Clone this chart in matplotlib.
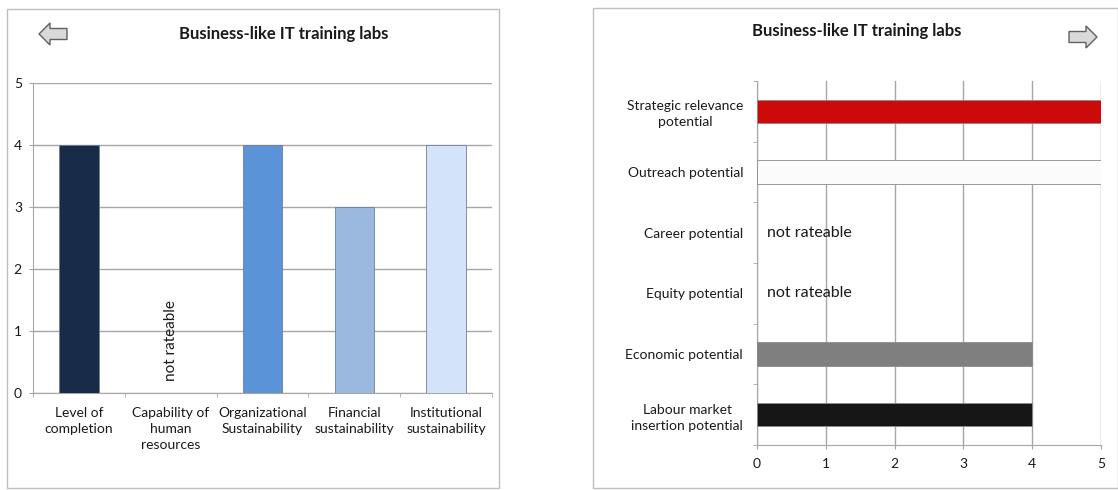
import numpy as np
import matplotlib.pyplot as plt
from matplotlib.patches import Rectangle, Polygon

plt.rcParams['font.family'] = ['Lato', 'DejaVu Sans']

title = "Business-like IT training labs"

# left chart: sustainability indicators
left_labels = ["Level of\ncompletion", "Capability of\nhuman\nresources",
               "Organizational\nSustainability", "Financial\nsustainability",
               "Institutional\nsustainability"]
left_values = [4, None, 4, 3, 4]
left_colors = ["#182b49", "#182b49", "#5b93d8", "#9bb9df", "#d3e3f9"]

# right chart: potentials
right_labels = ["Strategic relevance\npotential", "Outreach potential",
                "Career potential", "Equity potential",
                "Economic potential", "Labour market\ninsertion potential"]
right_values = [5, 5, None, None, 4, 4]
right_colors = ["#cc0a0a", "#fbfbfb", "#cc0a0a", "#cc0a0a", "#7f7f7f", "#161616"]

grid_c = "#a6a6a6"
text_c = "#1a1a1a"

fig = plt.figure(figsize=(11.18, 4.9), dpi=100)

# panel frames
fig.patches.append(Rectangle((7/1118, 0.004), 492/1118, 1 - 9/490 - 0.004,
                             transform=fig.transFigure, fill=False,
                             ec="#bfbfbf", lw=1.0))
fig.patches.append(Rectangle((593/1118, 0.004), 1 - 593/1118, 1 - 8/490 - 0.004,
                             transform=fig.transFigure, fill=False,
                             ec="#bfbfbf", lw=1.0))

# ---- left: vertical bars
ax1 = fig.add_axes([33/1118, 1 - 393/490, 459/1118, 310/490])
x = np.arange(len(left_labels))
for i, v in enumerate(left_values):
    if v is None:
        ax1.text(i, 0.2, "not rateable", rotation=90, ha="center", va="bottom",
                 fontsize=11, color=text_c)
        continue
    ax1.bar(i, v, width=0.43, color=left_colors[i], ec="#6f7f95", lw=0.6,
            zorder=3)
ax1.set_xlim(-0.5, len(left_labels) - 0.5)
ax1.set_ylim(0, 5)
ax1.set_yticks(range(6))
ax1.yaxis.grid(True, color=grid_c, lw=1.0, zorder=0)
ax1.set_xticks(x)
ax1.set_xticklabels(left_labels, fontsize=10, color=text_c, linespacing=1.4)
ax1.set_xticks(np.arange(-0.5, len(left_labels)), minor=True)
ax1.tick_params(axis="x", which="major", length=0, pad=10)
ax1.tick_params(axis="x", which="minor", length=3, color=grid_c, direction="out")
ax1.tick_params(axis="y", length=3, color=grid_c, labelsize=10, pad=5,
                labelcolor=text_c)
for s in ["top", "right"]:
    ax1.spines[s].set_visible(False)
for s in ["left", "bottom"]:
    ax1.spines[s].set_color(grid_c)
fig.text(284/1118, 1 - 34/490, title, ha="center", va="center",
         fontsize=12, fontweight="bold", color=text_c)

# ---- right: horizontal bars
ax2 = fig.add_axes([757/1118, 1 - 445/490, 344/1118, 364/490])
y = np.arange(len(right_labels))[::-1]
for yi, v, c in zip(y, right_values, right_colors):
    if v is None:
        ax2.text(0.15, yi, "not rateable", ha="left", va="center",
                 fontsize=11.5, color=text_c)
        continue
    ax2.barh(yi, v, height=0.38, color=c, ec="#8a8a8a", lw=0.6, zorder=3)
ax2.set_xlim(0, 5)
ax2.set_ylim(-0.5, len(right_labels) - 0.5)
ax2.set_xticks(range(6))
ax2.xaxis.grid(True, color=grid_c, lw=1.0, zorder=0)
ax2.set_yticks(y)
ax2.set_yticklabels(right_labels, fontsize=10, color=text_c,
                    multialignment="center", linespacing=1.4)
ax2.set_yticks(np.arange(-0.5, len(right_labels)), minor=True)
ax2.tick_params(axis="y", which="major", length=0, pad=10)
ax2.tick_params(axis="y", which="minor", length=3, color=grid_c, direction="out")
ax2.tick_params(axis="x", length=3, color=grid_c, labelsize=10, pad=6,
                labelcolor=text_c)
for s in ["top", "right"]:
    ax2.spines[s].set_visible(False)
for s in ["left", "bottom"]:
    ax2.spines[s].set_color(grid_c)
fig.text(857/1118, 1 - 31/490, title, ha="center", va="center",
         fontsize=12, fontweight="bold", color=text_c)

# navigation arrows
def arrow(cx, cy, direction):
    w, h = 28, 22
    pts = np.array([[-w/2, 0], [-w/2 + 11, h/2], [-w/2 + 11, h/4],
                    [w/2, h/4], [w/2, -h/4], [-w/2 + 11, -h/4],
                    [-w/2 + 11, -h/2]])
    pts[:, 0] *= -direction
    pts[:, 0] += cx
    pts[:, 1] = cy - pts[:, 1]
    pts[:, 0] /= 1118
    pts[:, 1] = 1 - pts[:, 1] / 490
    fig.patches.append(Polygon(pts, closed=True, transform=fig.transFigure,
                               fc="#d9d9d9", ec="#606060", lw=1.0))

arrow(53, 34, -1)
arrow(1083, 37, 1)

fig.savefig("out.png", dpi=100)
